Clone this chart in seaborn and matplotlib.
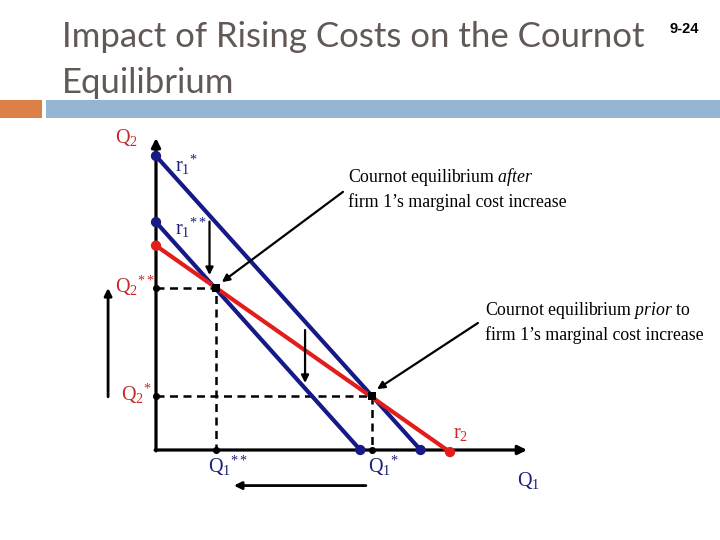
import matplotlib
matplotlib.use("Agg")
import matplotlib.pyplot as plt
from matplotlib.patches import Rectangle
import numpy as np
import pandas as pd
import seaborn as sns

# ---------------- data (Q1, Q2 in diagram units) ----------------
curve_names = ["r1*", "r1**", "r2"]
r1_star_q1 = [0.0, 9.0]
r1_star_q2 = [10.0, 0.0]
r1_dstar_q1 = [0.0, 6.95]
r1_dstar_q2 = [7.75, 0.0]
r2_q1 = [0.0, 10.0]
r2_q2 = [6.95, -0.07]

eq_names = ["prior", "after"]
eq_q1 = [7.34, 2.04]
eq_q2 = [1.85, 5.51]

axis_q1_max = 12.62
axis_q2_max = 10.61

title_lines = ["Impact of Rising Costs on the Cournot", "Equilibrium"]
slide_no = "9-24"

# ---------------- style ----------------
sns.set_theme(style="white")
plt.rcParams["mathtext.fontset"] = "custom"
plt.rcParams["mathtext.rm"] = "Liberation Serif"
plt.rcParams["mathtext.it"] = "Liberation Serif:italic"
plt.rcParams["mathtext.bf"] = "Liberation Serif:bold"
plt.rcParams["font.family"] = ["Liberation Serif", "DejaVu Sans"]

NAVY = "#161a86"
RED = "#e31c1c"
RED_TXT = "#c42a2a"
NAVY_TXT = "#1c1f7a"
TITLE_C = "#625855"

W, H = 720, 540
PX = 29.4           # pixels per diagram unit
OX, OY = 156, 450   # pixel position of origin

fig = plt.figure(figsize=(W / 100, H / 100), dpi=100)
ax = fig.add_axes([0, 0, 1, 1])
ax.set_xlim(-OX / PX, (W - OX) / PX)
ax.set_ylim(-(H - OY) / PX, OY / PX)
ax.axis("off")

# ---------------- header ----------------
fig.patches.append(Rectangle((0, 1 - 118 / H), 42 / W, 18 / H,
                             transform=fig.transFigure, color="#dd8047", lw=0))
fig.patches.append(Rectangle((46 / W, 1 - 118 / H), (W - 46) / W, 18 / H,
                             transform=fig.transFigure, color="#94b6d2", lw=0))
t1 = fig.text(62 / W, 1 - 46.7 / H, title_lines[0], family="Lato", fontsize=25,
              color=TITLE_C, va="baseline")
t2 = fig.text(62 / W, 1 - 93 / H, title_lines[1], family="Lato", fontsize=25,
              color=TITLE_C, va="baseline")
fig.canvas.draw()
w1 = t1.get_window_extent().width
scale = 583 / w1
t1.set_fontsize(25 * scale)
t2.set_fontsize(25 * scale)
fig.text(670 / W, 1 - 33 / H, slide_no, family="Liberation Sans", fontsize=10.5,
         fontweight="bold", color="black", va="baseline")

# ---------------- axes with arrows ----------------
ax.annotate("", xy=(0, axis_q2_max), xytext=(0, -0.03),
            arrowprops=dict(arrowstyle="-|>", color="black", lw=2.3,
                            mutation_scale=13, shrinkA=0, shrinkB=0))
ax.annotate("", xy=(axis_q1_max, 0), xytext=(-0.03, 0),
            arrowprops=dict(arrowstyle="-|>", color="black", lw=2.3,
                            mutation_scale=13, shrinkA=0, shrinkB=0))

# ---------------- dashed guides ----------------
guide_rows = []
for name, q1, q2 in zip(eq_names, eq_q1, eq_q2):
    guide_rows += [(name, 0.0, q2), (name, q1, q2), (name, q1, 0.0)]
guides = pd.DataFrame(guide_rows, columns=["eq", "Q1", "Q2"])
sns.lineplot(data=guides, x="Q1", y="Q2", units="eq", estimator=None, sort=False,
             color="black", lw=1.8, linestyle=(0, (3.2, 2.2)), ax=ax, zorder=2)

# ---------------- reaction functions ----------------
curves = pd.DataFrame({
    "curve": [c for c in curve_names for _ in range(2)],
    "Q1": r1_star_q1 + r1_dstar_q1 + r2_q1,
    "Q2": r1_star_q2 + r1_dstar_q2 + r2_q2,
})
pal = {"r1*": NAVY, "r1**": NAVY, "r2": RED}
sns.lineplot(data=curves, x="Q1", y="Q2", hue="curve", palette=pal, units="curve",
             estimator=None, sort=False, lw=3.0, legend=False, ax=ax, zorder=3)
sns.scatterplot(data=curves, x="Q1", y="Q2", hue="curve", palette=pal, s=55,
                linewidth=0, legend=False, ax=ax, zorder=4)

# ---------------- equilibrium points ----------------
eq_df = pd.DataFrame({"Q1": eq_q1, "Q2": eq_q2})
sns.scatterplot(data=eq_df, x="Q1", y="Q2", color="black", marker="s", s=28,
                linewidth=0, ax=ax, zorder=5)
axis_pts = pd.DataFrame({"Q1": [0.0, 0.0] + eq_q1, "Q2": eq_q2 + [0.0, 0.0]})
sns.scatterplot(data=axis_pts, x="Q1", y="Q2", color="black", marker="o", s=26,
                linewidth=0, ax=ax, zorder=5)

# ---------------- labels ----------------
LS = 14.5
def lab(x, y, s, c):
    ax.text(x, y, s, fontsize=LS, color=c, va="baseline", ha="left")

lab(-1.38, 10.44, r"$\mathrm{Q}_2$", RED_TXT)
lab(0.65, 9.46, r"$\mathrm{r}_1{}^{*}$", NAVY_TXT)
lab(0.65, 7.31, r"$\mathrm{r}_1{}^{**}$", NAVY_TXT)
lab(-1.38, 5.34, r"$\mathrm{Q}_2{}^{**}$", RED_TXT)
lab(-1.18, 1.68, r"$\mathrm{Q}_2{}^{*}$", RED_TXT)
lab(10.1, 0.41, r"$\mathrm{r}_2$", RED_TXT)
lab(1.77, -0.77, r"$\mathrm{Q}_1{}^{**}$", NAVY_TXT)
lab(7.21, -0.77, r"$\mathrm{Q}_1{}^{*}$", NAVY_TXT)
lab(12.28, -1.22, r"$\mathrm{Q}_1$", NAVY_TXT)

TS = 12.8
ax.text(6.53, 9.13, r"Cournot equilibrium $\mathit{after}$", fontsize=TS,
        color="black", va="baseline")
ax.text(6.53, 8.27, "firm 1\u2019s marginal cost increase", fontsize=TS,
        color="black", va="baseline")
ax.text(11.19, 4.59, r"Cournot equilibrium $\mathit{prior}$ to", fontsize=TS,
        color="black", va="baseline")
ax.text(11.19, 3.74, "firm 1\u2019s marginal cost increase", fontsize=TS,
        color="black", va="baseline")

# ---------------- arrows ----------------
def arrow(x0, y0, x1, y1, lw=1.6, ms=11):
    ax.annotate("", xy=(x1, y1), xytext=(x0, y0),
                arrowprops=dict(arrowstyle="-|>", color="black", lw=lw,
                                mutation_scale=ms, shrinkA=0, shrinkB=0))

arrow(6.36, 8.78, 2.24, 5.71)
arrow(10.95, 4.32, 7.52, 2.07)
arrow(-1.63, 1.81, -1.63, 5.51, lw=2.0)
arrow(1.82, 7.77, 1.82, 5.95)
arrow(5.07, 4.08, 5.07, 2.28)
arrow(7.14, -1.21, 2.65, -1.21, lw=2.0)

fig.savefig("out.png", dpi=100, facecolor="white")
